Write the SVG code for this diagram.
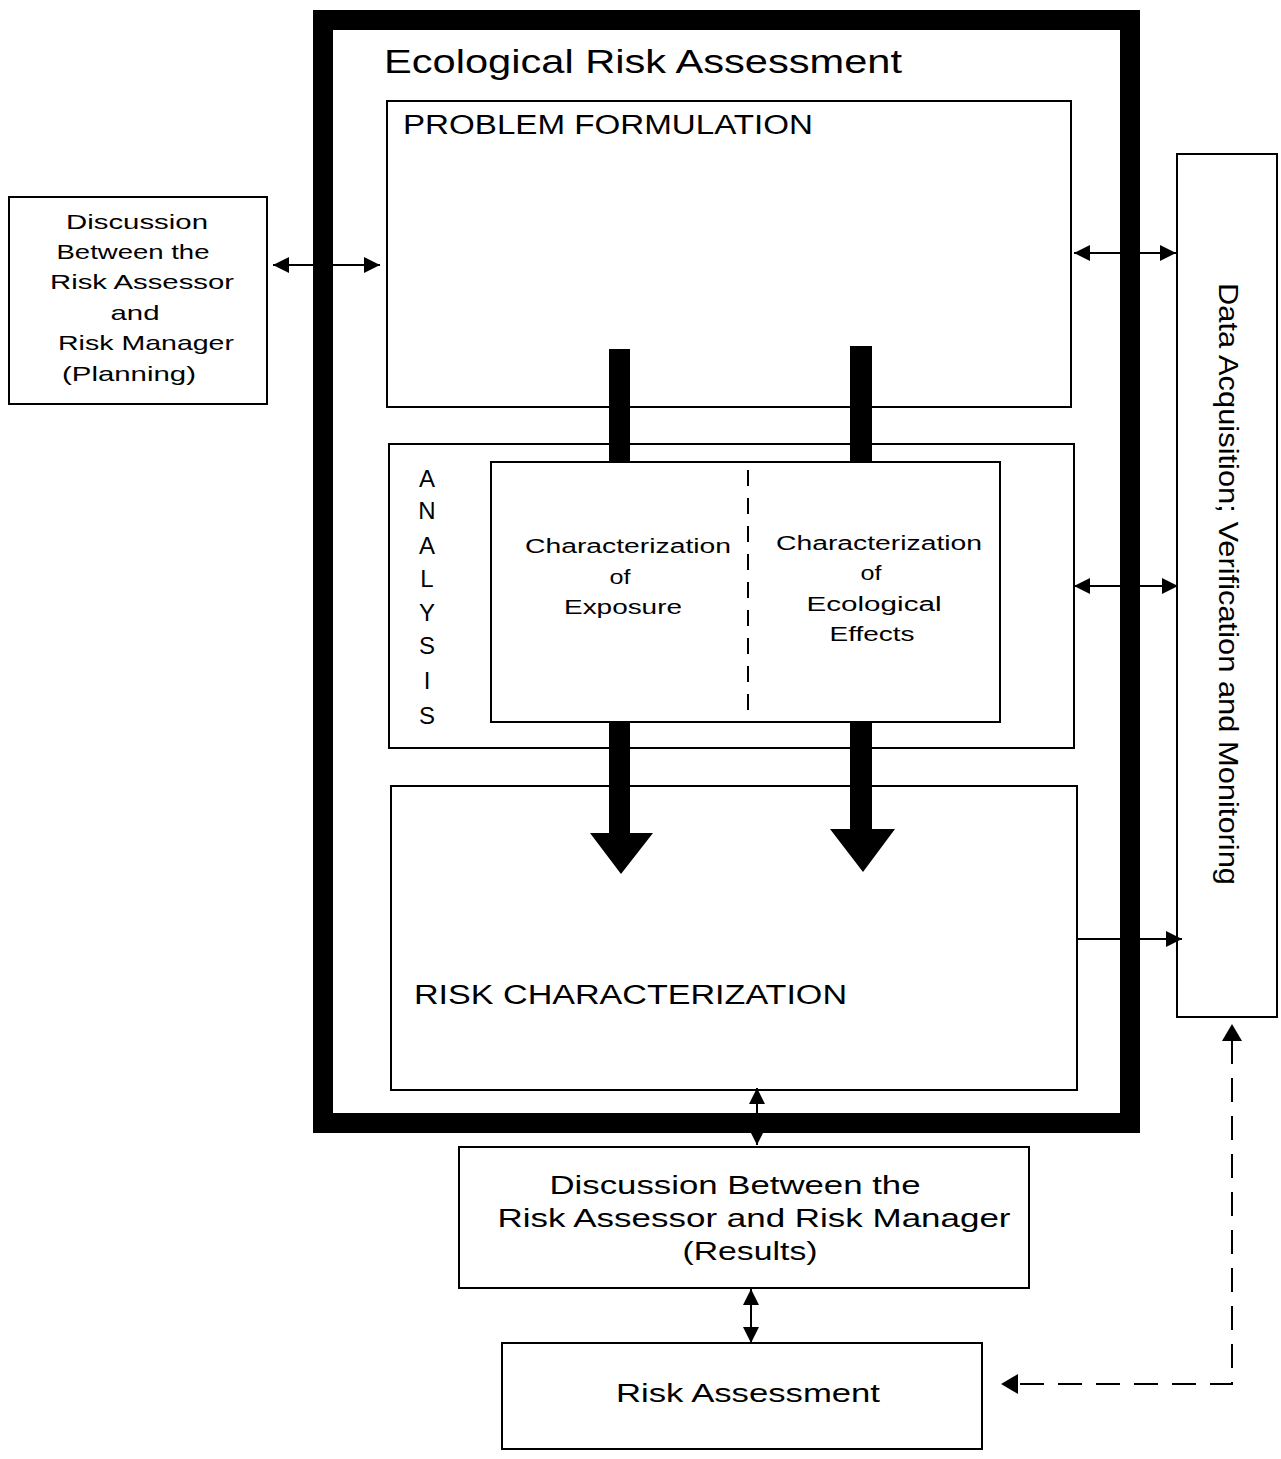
<svg xmlns="http://www.w3.org/2000/svg" width="1281" height="1459" viewBox="0 0 1281 1459">
<style>
.box{fill:none;stroke:#000;stroke-width:2}
.t{font-family:"Liberation Sans",Arial,sans-serif;fill:#000}
.ln{stroke:#000;stroke-width:2;fill:none}
.dash{stroke:#000;stroke-width:2;fill:none;stroke-dasharray:24,14}
</style>
<defs>
<marker id="ahb" viewBox="0 0 10 10" refX="10" refY="5" markerWidth="16" markerHeight="16" markerUnits="userSpaceOnUse" orient="auto-start-reverse">
<path d="M0,0 L10,5 L0,10 z" fill="#000"/>
</marker>
</defs>
<rect width="1281" height="1459" fill="#fff"/>

<g id="connectors">
<line class="ln" x1="273" y1="265" x2="380" y2="265" marker-start="url(#ahb)" marker-end="url(#ahb)"/>
<line class="ln" x1="1074" y1="253" x2="1176" y2="253" marker-start="url(#ahb)" marker-end="url(#ahb)"/>
<line class="ln" x1="1074" y1="586" x2="1178" y2="586" marker-start="url(#ahb)" marker-end="url(#ahb)"/>
<line class="ln" x1="1078" y1="939" x2="1182" y2="939" marker-end="url(#ahb)"/>
<line class="ln" x1="757" y1="1088" x2="757" y2="1145" marker-start="url(#ahb)" marker-end="url(#ahb)"/>
<line class="ln" x1="751" y1="1289" x2="751" y2="1343" marker-start="url(#ahb)" marker-end="url(#ahb)"/>
<path class="dash" d="M1232,1040 L1232,1384 L1018,1384"/>
<path d="M1232,1024 L1222,1041 L1242,1041 z" fill="#000"/>
<path d="M1001,1384 L1018,1374 L1018,1394 z" fill="#000"/>
</g>

<g id="frame">
<rect x="323" y="20" width="807" height="1103" fill="none" stroke="#000" stroke-width="20"/>
<text class="t" x="384" y="73" font-size="33" textLength="518" lengthAdjust="spacingAndGlyphs">Ecological Risk Assessment</text>
</g>

<g id="problem-formulation">
<rect class="box" x="387" y="101" width="684" height="306"/>
<text class="t" x="403" y="134" font-size="27" textLength="410" lengthAdjust="spacingAndGlyphs">PROBLEM FORMULATION</text>
</g>

<g id="analysis">
<rect class="box" x="389" y="444" width="685" height="304"/>
<g class="t" font-size="24" text-anchor="middle">
<text x="427" y="487">A</text>
<text x="427" y="519">N</text>
<text x="427" y="554">A</text>
<text x="427" y="587">L</text>
<text x="427" y="621">Y</text>
<text x="427" y="654">S</text>
<text x="427" y="689">I</text>
<text x="427" y="724">S</text>
</g>
</g>

<g id="risk-characterization">
<rect class="box" x="391" y="786" width="686" height="304"/>
<text class="t" x="414" y="1004" font-size="27" textLength="433" lengthAdjust="spacingAndGlyphs">RISK CHARACTERIZATION</text>
</g>

<g id="flow-arrows">
<path d="M609,349 L630,349 L630,833 L653,833 L621,874 L590,833 L609,833 z" fill="#000"/>
<path d="M850,346 L872,346 L872,829 L895,829 L863,872 L830,829 L850,829 z" fill="#000"/>
</g>

<g id="characterization">
<rect x="491" y="462" width="509" height="260" fill="#fff" stroke="#000" stroke-width="2"/>
<line x1="748" y1="470" x2="748" y2="716" stroke="#000" stroke-width="2" stroke-dasharray="16,12"/>
<g class="t" font-size="20" text-anchor="middle">
<text x="628" y="553" textLength="206" lengthAdjust="spacingAndGlyphs">Characterization</text>
<text x="620" y="584" textLength="21" lengthAdjust="spacingAndGlyphs">of</text>
<text x="623" y="614" textLength="118" lengthAdjust="spacingAndGlyphs">Exposure</text>
<text x="879" y="550" textLength="206" lengthAdjust="spacingAndGlyphs">Characterization</text>
<text x="871" y="580" textLength="21" lengthAdjust="spacingAndGlyphs">of</text>
<text x="874" y="611" textLength="135" lengthAdjust="spacingAndGlyphs">Ecological</text>
<text x="872" y="641" textLength="85" lengthAdjust="spacingAndGlyphs">Effects</text>
</g>
</g>

<g id="planning">
<rect class="box" x="9" y="197" width="258" height="207"/>
<g class="t" font-size="21" text-anchor="middle">
<text x="137" y="229" textLength="142" lengthAdjust="spacingAndGlyphs">Discussion</text>
<text x="133" y="259" textLength="153" lengthAdjust="spacingAndGlyphs">Between the</text>
<text x="142" y="289" textLength="184" lengthAdjust="spacingAndGlyphs">Risk Assessor</text>
<text x="135" y="320" textLength="49" lengthAdjust="spacingAndGlyphs">and</text>
<text x="146" y="350" textLength="176" lengthAdjust="spacingAndGlyphs">Risk Manager</text>
<text x="129" y="381" textLength="134" lengthAdjust="spacingAndGlyphs">(Planning)</text>
</g>
</g>

<g id="data-acquisition">
<rect class="box" x="1177" y="154" width="100" height="863"/>
<text class="t" font-size="27" text-anchor="middle" transform="translate(1219,584) rotate(90)" textLength="602" lengthAdjust="spacingAndGlyphs">Data Acquisition; Verification and Monitoring</text>
</g>

<g id="results">
<rect class="box" x="459" y="1147" width="570" height="141"/>
<g class="t" font-size="25" text-anchor="middle">
<text x="735" y="1194" textLength="371" lengthAdjust="spacingAndGlyphs">Discussion Between the</text>
<text x="754" y="1227" textLength="513" lengthAdjust="spacingAndGlyphs">Risk Assessor and Risk Manager</text>
<text x="750" y="1260" textLength="135" lengthAdjust="spacingAndGlyphs">(Results)</text>
</g>
</g>

<g id="risk-assessment">
<rect class="box" x="502" y="1343" width="480" height="106"/>
<text class="t" x="748" y="1402" font-size="26" text-anchor="middle" textLength="264" lengthAdjust="spacingAndGlyphs">Risk Assessment</text>
</g>
</svg>
